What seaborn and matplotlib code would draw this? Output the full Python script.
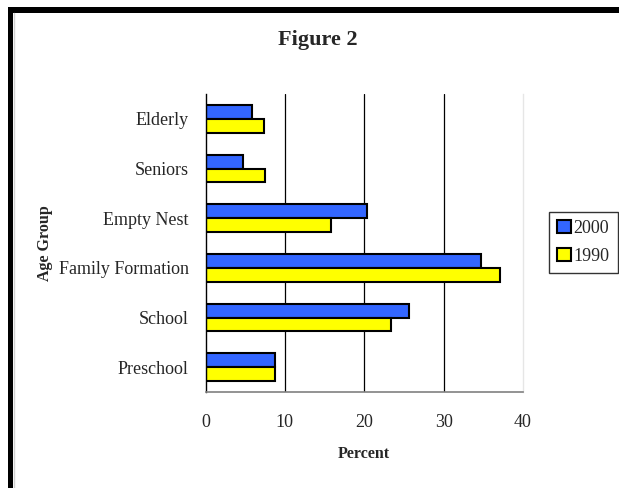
import matplotlib
matplotlib.use("Agg")
import matplotlib.pyplot as plt
from matplotlib.patches import Rectangle
from matplotlib.ticker import FixedLocator
import seaborn as sns
import pandas as pd

age_groups = ["Elderly", "Seniors", "Empty Nest", "Family Formation", "School", "Preschool"]
pct_2000 = [5.8, 4.7, 20.4, 34.7, 25.6, 8.7]
pct_1990 = [7.4, 7.5, 15.8, 37.1, 23.4, 8.7]
years = ["2000", "1990"]
x_ticks = [0, 10, 20, 30, 40]

df = pd.DataFrame({
    "Age Group": age_groups * 2,
    "Percent": pct_2000 + pct_1990,
    "Year": [years[0]] * len(age_groups) + [years[1]] * len(age_groups),
})

sns.set_style("white")
plt.rcParams["font.family"] = ["Liberation Serif", "DejaVu Serif"]

W, H = 619, 488
fig = plt.figure(figsize=(W / 100, H / 100), dpi=100)
ax = fig.add_axes([205.5 / W, 1 - 392 / H, (523 - 205.5) / W, (392 - 94) / H])

sns.barplot(data=df, x="Percent", y="Age Group", hue="Year", order=age_groups,
            hue_order=years, palette={"2000": "#3366FF", "1990": "#FFFF00"},
            width=0.56, edgecolor="black", linewidth=1.5, saturation=1,
            orient="h", ax=ax, legend=True)

ax.set_xlim(0, 40)
ax.set_ylim(len(age_groups) - 0.5, -0.5)
ax.set_xticks(x_ticks)
ax.set_xticklabels([str(t) for t in x_ticks], fontsize=13)
ax.tick_params(axis="x", direction="inout", length=7, width=1, color="#404040", pad=12)
ax.tick_params(axis="y", which="major", length=0, pad=12, labelsize=13)
ax.yaxis.set_minor_locator(FixedLocator([i - 0.5 for i in range(len(age_groups) + 1)]))
ax.tick_params(axis="y", which="minor", direction="out", length=4, width=1, color="black")

for v in x_ticks[1:-1]:
    ax.axvline(v, color="black", lw=0.9, zorder=0)

ax.spines["top"].set_visible(False)
ax.spines["right"].set_color("#e6e6e6")
ax.spines["right"].set_linewidth(1)
ax.spines["left"].set_color("black")
ax.spines["left"].set_linewidth(1)
ax.spines["bottom"].set_color("#808080")
ax.spines["bottom"].set_linewidth(1.2)

ax.set_xlabel("Percent", fontsize=11.5, fontweight="bold", labelpad=11)
ax.set_ylabel("")
fig.text(45 / W, 1 - 243 / H, "Age Group", rotation=90, fontsize=11.5,
         fontweight="bold", ha="center", va="center")
fig.text(318 / W, 1 - 40 / H, "Figure 2", fontsize=16, fontweight="bold",
         ha="center", va="center")

leg = ax.legend(loc="center left", bbox_to_anchor=(549 / W, 1 - 242.5 / H),
                bbox_transform=fig.transFigure, frameon=True, fancybox=False,
                fontsize=13, handlelength=0.75, handleheight=0.75,
                handletextpad=0.15, borderpad=0.45, labelspacing=0.6,
                borderaxespad=0, title=None)
leg.get_frame().set_edgecolor("black")
leg.get_frame().set_linewidth(1)
for h in leg.legend_handles:
    h.set_edgecolor("black")
    h.set_linewidth(1.5)

# page frame: thick black rule along the top and left edges
fig.patches.append(Rectangle((8 / W, 0), 5 / W, 1 - 7 / H, transform=fig.transFigure,
                             facecolor="black", edgecolor="none"))
fig.patches.append(Rectangle((8 / W, 1 - 13 / H), 1 - 8 / W, 6 / H, transform=fig.transFigure,
                             facecolor="black", edgecolor="none"))
fig.lines.append(plt.Line2D([14 / W, 14 / W], [0, 1 - 13 / H], transform=fig.transFigure,
                            color="#d0d0d0", lw=1))

fig.savefig("out.png", dpi=100)
